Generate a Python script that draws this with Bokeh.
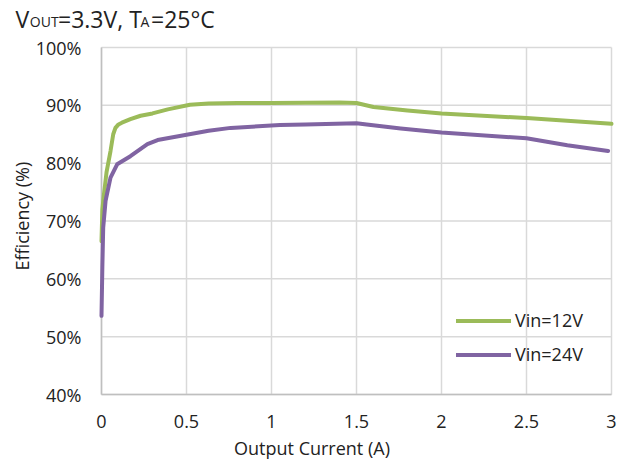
import math
from bokeh.plotting import figure
from bokeh.models import Range1d, Label, Legend, LegendItem
from bokeh.core.properties import value
from bokeh.embed import file_html
from bokeh.resources import INLINE

# ---- data ----
current_12v = [0, 0.005, 0.012, 0.03, 0.053, 0.069, 0.082, 0.1, 0.12, 0.17, 0.23, 0.3, 0.39,
               0.52, 0.63, 0.8, 1.0, 1.2, 1.4, 1.5, 1.6, 1.8, 2.0, 2.5, 3.0]
eff_12v = [66.5, 72.0, 74.0, 78.5, 82.1, 85.0, 86.1, 86.7, 87.0, 87.6, 88.2, 88.6, 89.3,
           90.1, 90.3, 90.4, 90.4, 90.45, 90.5, 90.4, 89.7, 89.1, 88.6, 87.8, 86.8]

current_24v = [0, 0.005, 0.01, 0.024, 0.053, 0.092, 0.17, 0.27, 0.33, 0.46, 0.63,
               0.76, 1.05, 1.2, 1.5, 1.56, 1.76, 2.0, 2.5, 2.74, 2.98]
eff_24v = [53.6, 62.0, 68.8, 73.5, 77.5, 79.8, 81.2, 83.3, 84.0, 84.7, 85.6,
           86.1, 86.6, 86.7, 86.9, 86.7, 86.0, 85.3, 84.3, 83.1, 82.1]

series_names = ["Vin=12V", "Vin=24V"]
x_ticks = [0, 0.5, 1, 1.5, 2, 2.5, 3]
x_tick_labels = ["0", "0.5", "1", "1.5", "2", "2.5", "3"]
y_ticks = [40, 50, 60, 70, 80, 90, 100]
y_tick_labels = ["40%", "50%", "60%", "70%", "80%", "90%", "100%"]

FONT = "Open Sans"
FS = "18px"
GREEN = "#9BBB59"
PURPLE = "#8064A2"
GRID = "#d9d9d9"
AXIS = "#bfbfbf"
TXT = "#222222"

# ---- layout geometry (pixels) ----
W, H = 623, 459
PL, PR, PT, PB = 101, 611, 47, 394          # plot-area box
x0, x1 = x_ticks[0], x_ticks[-1]
y0, y1 = y_ticks[0], y_ticks[-1]
sx = (PR - PL) / (x1 - x0)                   # px per A
sy = (PB - PT) / (y1 - y0)                   # px per %


def dx(px):
    return x0 + (px - PL) / sx


def dy(py):
    return y0 + (PB - py) / sy


p = figure(width=W, height=H, output_backend="svg", toolbar_location=None, title=None,
           x_range=Range1d(dx(0), dx(W)), y_range=Range1d(dy(H), dy(0)),
           x_axis_type=None, y_axis_type=None, min_border=0)
p.outline_line_color = None
p.background_fill_color = "white"
p.border_fill_color = "white"

# grid lines (within the plot area) and axis lines
nx, ny = len(x_ticks), len(y_ticks)
p.segment(x0=x_ticks, y0=[y0] * nx, x1=x_ticks, y1=[y1] * nx,
          line_color=GRID, line_width=1.5)
p.segment(x0=[x0] * ny, y0=y_ticks, x1=[x1] * ny, y1=y_ticks,
          line_color=GRID, line_width=1.5)
p.segment(x0=[x0, x0], y0=[y0, y0], x1=[x0, x1], y1=[y1, y0],
          line_color=AXIS, line_width=1.5)

# tick labels
p.text(x=x_ticks, y=[dy(420.5)] * nx, text=x_tick_labels,
       text_font=value(FONT), text_font_size=FS, text_color=TXT,
       text_align="center", text_baseline="middle")
p.text(x=[dx(PL - 20)] * ny, y=y_ticks, text=y_tick_labels,
       text_font=value(FONT), text_font_size=FS, text_color=TXT,
       text_align="right", text_baseline="middle")

# series
r12 = p.line(current_12v, eff_12v, line_width=4, line_color=GREEN,
             line_join="round", line_cap="round")
r24 = p.line(current_24v, eff_24v, line_width=4, line_color=PURPLE,
             line_join="round", line_cap="round")

legend = Legend(items=[LegendItem(label=series_names[0], renderers=[r12]),
                       LegendItem(label=series_names[1], renderers=[r24])],
                location=(456, 93), padding=0, margin=0, spacing=10,
                glyph_width=55, glyph_height=23, label_height=23, label_standoff=4,
                label_text_font=FONT, label_text_font_size=FS,
                label_text_color=TXT,
                border_line_alpha=0, background_fill_alpha=0)
p.add_layout(legend)

# axis titles
p.add_layout(Label(x=dx(311.5), y=dy(447.5), text="Output Current (A)", text_font=FONT,
                   text_font_size=FS, text_align="center", text_baseline="middle",
                   text_color=TXT))
p.add_layout(Label(x=dx(21.5), y=dy(215.6), text="Efficiency (%)", text_font=FONT,
                   text_font_size=FS, text_align="center", text_baseline="middle",
                   angle=math.pi / 2, text_color=TXT))

# heading with subscripts
title_parts = [("V", 15, 23, 18.6), ("OUT", 29.3, 14, 21.2), ("=3.3V, T", 57.5, 23, 18.6),
               ("A", 140, 14, 21.2), ("=25°C", 150.5, 23, 18.6)]
for txt, px, fs, py in title_parts:
    p.add_layout(Label(x=dx(px), y=dy(py), text=txt, text_font=FONT,
                       text_font_size=f"{fs}px", text_baseline="middle",
                       text_color=TXT))

open("out.html", "w").write(file_html(p, INLINE))
